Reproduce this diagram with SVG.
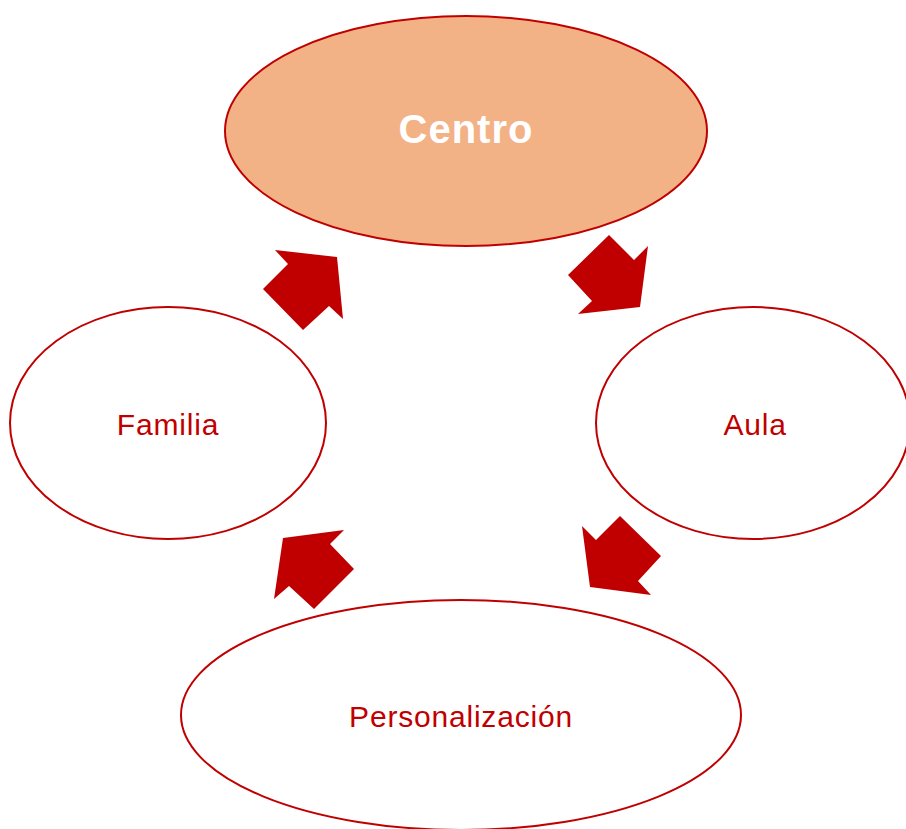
<svg xmlns="http://www.w3.org/2000/svg" width="906" height="829" viewBox="0 0 906 829">
<style>
.node{fill:#FFFFFF;stroke:#C00000;stroke-width:2}
.lbl{font-family:"Comic Sans MS","Liberation Sans",sans-serif;font-size:30px;letter-spacing:0.8px;fill:#C00000;text-anchor:middle;dominant-baseline:central}
.arrow{fill:#C00000}
</style>
<rect width="906" height="829" fill="#FFFFFF"/>
<g id="centro">
<ellipse cx="466" cy="131" rx="241" ry="115" fill="#F3B186" stroke="#C00000" stroke-width="2"/>
<text x="466" y="129" class="lbl" style="fill:#FFFFFF;font-size:40px;font-weight:bold;letter-spacing:1px">Centro</text>
</g>
<g id="familia">
<ellipse class="node" cx="168" cy="423" rx="158" ry="116"/>
<text x="168" y="424" class="lbl">Familia</text>
</g>
<g id="aula">
<ellipse class="node" cx="753" cy="423" rx="157" ry="116"/>
<text x="755" y="424" class="lbl">Aula</text>
</g>
<g id="personalizacion">
<ellipse class="node" cx="461" cy="715" rx="280" ry="115"/>
<text x="461" y="716" class="lbl">Personalización</text>
</g>
<g id="connectors">
<polygon class="arrow" points="609,235 634,260 648,246 640,307 578,314 592,301 568,275"/>
<polygon class="arrow" points="275,250 337,257 343,319 329,306 303,330 263,289 288,264"/>
<polygon class="arrow" points="582,526 596,540 620,516 661,556 638,581 651,595 590,587"/>
<polygon class="arrow" points="283,538 344,530 330,544 354,569 314,609 289,586 274,599"/>
</g>
</svg>
